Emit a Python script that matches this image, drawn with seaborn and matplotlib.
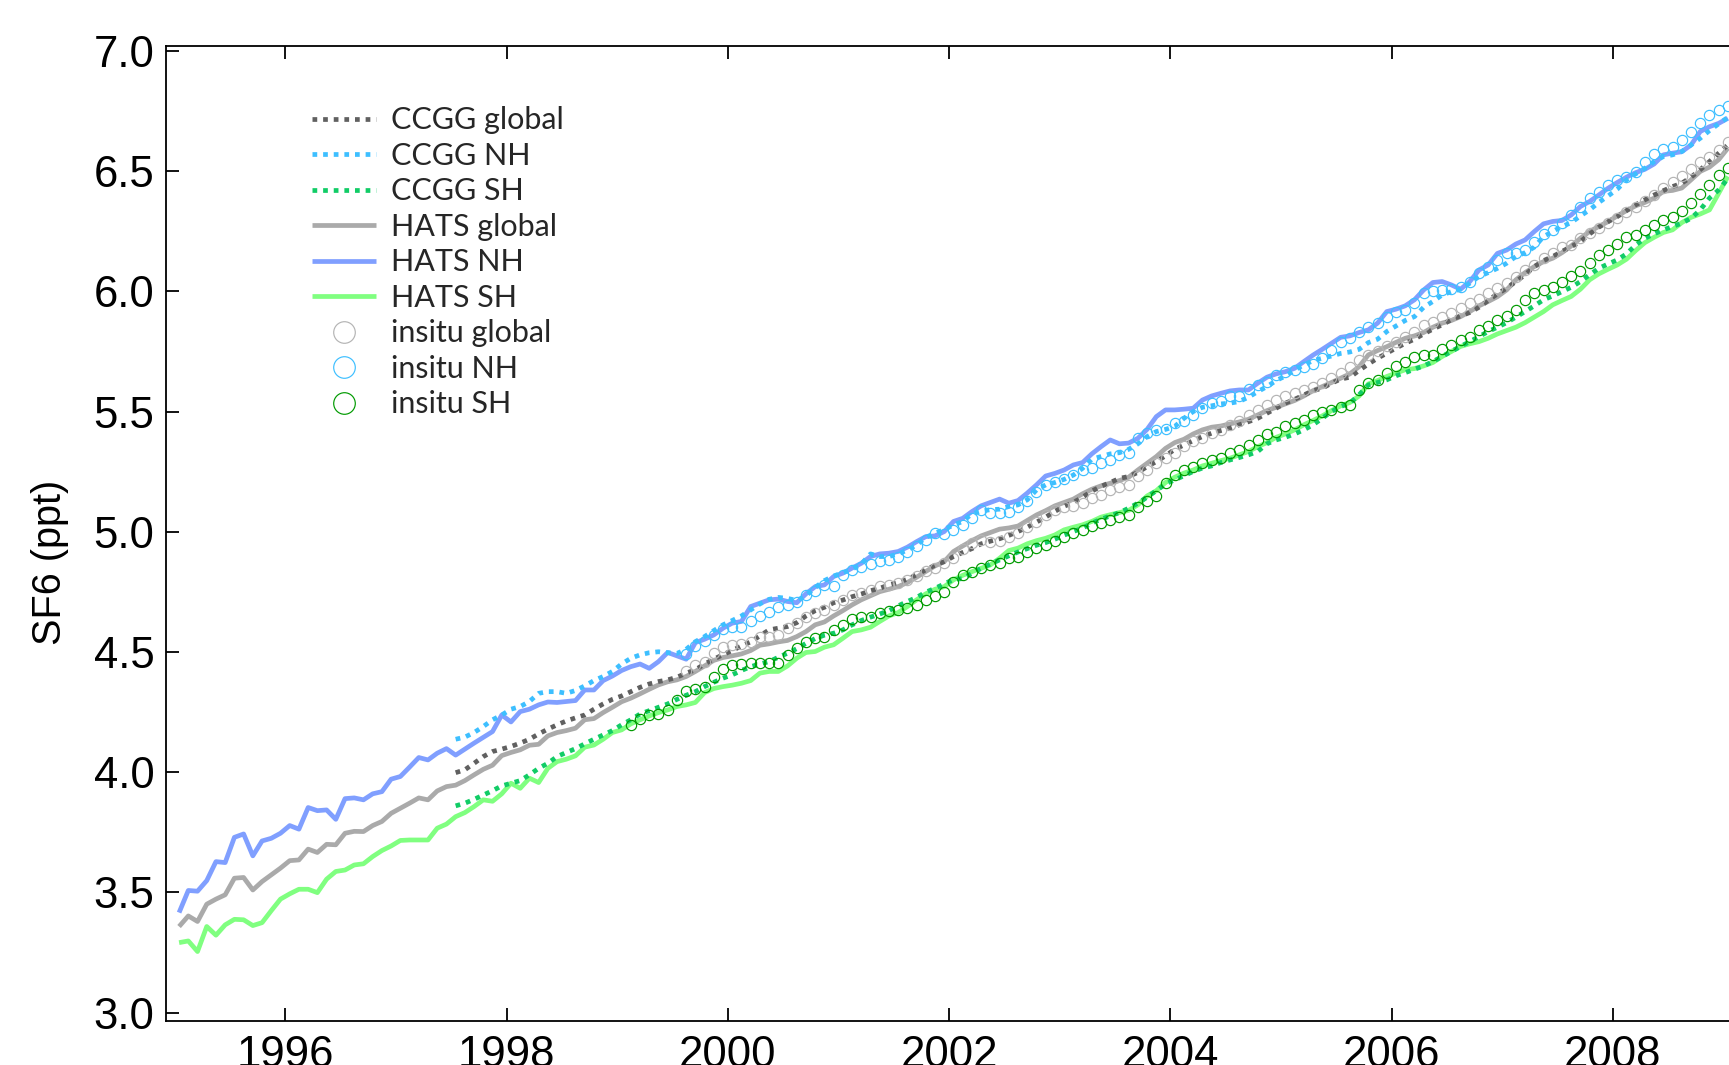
import numpy as np
import matplotlib
matplotlib.use("Agg")
import matplotlib.pyplot as plt
import seaborn as sns
from matplotlib.ticker import FormatStrFormatter

# ---------------- data (monthly SF6 mole fractions, ppt) ----------------
BASE_YEAR = 1995.04          # first monthly time step (decimal year)
HATS_START = 0               # month offsets from BASE_YEAR
CCGG_START = 30
INSITU_SH_START = 49
INSITU_NH_START = 55
INSITU_GL_START = 55

hats_nh = [3.416, 3.508, 3.505, 3.549, 3.628, 3.624, 3.729, 3.743, 3.652, 3.714, 3.725, 3.746, 3.778, 3.763,
           3.853, 3.840, 3.843, 3.804, 3.890, 3.893, 3.885, 3.910, 3.919, 3.971, 3.982, 4.021, 4.061, 4.051,
           4.079, 4.098, 4.071, 4.096, 4.121, 4.145, 4.169, 4.238, 4.209, 4.252, 4.262, 4.280, 4.292, 4.290,
           4.294, 4.298, 4.342, 4.342, 4.381, 4.400, 4.423, 4.439, 4.450, 4.432, 4.460, 4.498, 4.484, 4.470,
           4.539, 4.553, 4.571, 4.599, 4.620, 4.627, 4.689, 4.703, 4.717, 4.720, 4.710, 4.705, 4.742, 4.772,
           4.779, 4.814, 4.828, 4.849, 4.869, 4.897, 4.908, 4.911, 4.918, 4.936, 4.959, 4.980, 4.983, 5.001,
           5.043, 5.056, 5.084, 5.108, 5.122, 5.136, 5.119, 5.130, 5.161, 5.195, 5.232, 5.243, 5.257, 5.278,
           5.288, 5.324, 5.354, 5.382, 5.366, 5.369, 5.389, 5.426, 5.479, 5.507, 5.507, 5.510, 5.514, 5.548,
           5.565, 5.576, 5.586, 5.590, 5.590, 5.618, 5.643, 5.657, 5.666, 5.680, 5.708, 5.735, 5.759, 5.784,
           5.809, 5.815, 5.829, 5.840, 5.868, 5.916, 5.926, 5.940, 5.965, 6.006, 6.037, 6.041, 6.027, 6.009,
           6.041, 6.089, 6.110, 6.158, 6.172, 6.197, 6.214, 6.249, 6.281, 6.291, 6.295, 6.318, 6.353, 6.374,
           6.401, 6.429, 6.453, 6.475, 6.494, 6.508, 6.530, 6.568, 6.575, 6.581, 6.609, 6.665, 6.685, 6.699,
           6.720]

hats_gl = [3.358, 3.402, 3.379, 3.451, 3.472, 3.490, 3.559, 3.562, 3.510, 3.545, 3.573, 3.601, 3.632, 3.635,
           3.680, 3.666, 3.700, 3.698, 3.746, 3.754, 3.753, 3.778, 3.795, 3.829, 3.850, 3.871, 3.893, 3.885,
           3.922, 3.940, 3.946, 3.965, 3.989, 4.012, 4.029, 4.069, 4.082, 4.093, 4.112, 4.116, 4.151, 4.165,
           4.173, 4.183, 4.218, 4.223, 4.248, 4.270, 4.293, 4.308, 4.326, 4.345, 4.363, 4.376, 4.384, 4.398,
           4.419, 4.442, 4.465, 4.477, 4.484, 4.492, 4.506, 4.528, 4.534, 4.542, 4.548, 4.564, 4.585, 4.613,
           4.625, 4.650, 4.672, 4.696, 4.717, 4.734, 4.751, 4.761, 4.772, 4.789, 4.811, 4.835, 4.858, 4.876,
           4.918, 4.941, 4.963, 4.983, 4.997, 5.011, 5.016, 5.024, 5.047, 5.070, 5.088, 5.108, 5.122, 5.136,
           5.158, 5.177, 5.191, 5.202, 5.213, 5.227, 5.257, 5.285, 5.313, 5.347, 5.371, 5.385, 5.407, 5.424,
           5.435, 5.440, 5.449, 5.457, 5.468, 5.486, 5.504, 5.518, 5.532, 5.546, 5.565, 5.587, 5.604, 5.621,
           5.639, 5.657, 5.687, 5.736, 5.754, 5.770, 5.788, 5.805, 5.815, 5.829, 5.851, 5.868, 5.879, 5.895,
           5.916, 5.940, 5.958, 5.978, 6.006, 6.048, 6.078, 6.103, 6.124, 6.138, 6.161, 6.189, 6.221, 6.249,
           6.270, 6.290, 6.314, 6.336, 6.356, 6.370, 6.388, 6.416, 6.420, 6.430, 6.464, 6.499, 6.517, 6.548,
           6.596]

hats_sh = [3.291, 3.298, 3.254, 3.358, 3.322, 3.365, 3.388, 3.386, 3.362, 3.374, 3.424, 3.472, 3.494, 3.513,
           3.513, 3.499, 3.555, 3.587, 3.593, 3.614, 3.619, 3.649, 3.674, 3.693, 3.716, 3.718, 3.718, 3.718,
           3.767, 3.784, 3.815, 3.832, 3.857, 3.885, 3.879, 3.910, 3.954, 3.933, 3.975, 3.957, 4.016, 4.044,
           4.054, 4.068, 4.104, 4.113, 4.137, 4.165, 4.176, 4.201, 4.218, 4.234, 4.248, 4.259, 4.273, 4.280,
           4.290, 4.331, 4.348, 4.356, 4.362, 4.370, 4.381, 4.412, 4.419, 4.419, 4.442, 4.474, 4.498, 4.502,
           4.520, 4.530, 4.557, 4.585, 4.592, 4.603, 4.627, 4.650, 4.664, 4.689, 4.717, 4.742, 4.761, 4.772,
           4.800, 4.819, 4.834, 4.848, 4.862, 4.890, 4.922, 4.932, 4.950, 4.963, 4.973, 4.987, 5.008, 5.019,
           5.029, 5.043, 5.061, 5.071, 5.080, 5.089, 5.112, 5.149, 5.171, 5.205, 5.227, 5.244, 5.257, 5.274,
           5.285, 5.296, 5.306, 5.320, 5.334, 5.354, 5.371, 5.393, 5.407, 5.424, 5.445, 5.463, 5.482, 5.504,
           5.524, 5.538, 5.565, 5.615, 5.629, 5.646, 5.660, 5.674, 5.679, 5.690, 5.704, 5.729, 5.750, 5.771,
           5.782, 5.791, 5.805, 5.823, 5.837, 5.851, 5.870, 5.893, 5.916, 5.944, 5.962, 5.979, 6.009, 6.048,
           6.073, 6.092, 6.110, 6.134, 6.170, 6.203, 6.225, 6.245, 6.256, 6.286, 6.308, 6.322, 6.339, 6.408,
           6.478]

ccgg_nh = [4.137, 4.146, 4.165, 4.190, 4.218, 4.238, 4.262, 4.273, 4.294, 4.328, 4.335, 4.335,
           4.328, 4.340, 4.359, 4.381, 4.398, 4.419, 4.450, 4.474, 4.488, 4.497, 4.501, 4.497, 4.494, 4.511,
           4.543, 4.564, 4.589, 4.613, 4.631, 4.650, 4.675, 4.700, 4.719, 4.727, 4.723, 4.714, 4.733, 4.769,
           4.797, 4.816, 4.830, 4.844, 4.866, 4.908, 4.897, 4.897, 4.908, 4.924, 4.945, 4.977, 4.994, 5.010,
           5.028, 5.043, 5.075, 5.086, 5.092, 5.094, 5.105, 5.112, 5.133, 5.174, 5.195, 5.205, 5.218, 5.236,
           5.264, 5.302, 5.313, 5.324, 5.329, 5.343, 5.366, 5.396, 5.417, 5.426, 5.438, 5.472, 5.500, 5.518,
           5.524, 5.532, 5.535, 5.542, 5.560, 5.583, 5.604, 5.629, 5.648, 5.673, 5.694, 5.712, 5.722, 5.731,
           5.742, 5.748, 5.759, 5.787, 5.801, 5.833, 5.856, 5.879, 5.895, 5.934, 5.958, 5.985, 5.999, 6.009,
           6.034, 6.062, 6.078, 6.096, 6.117, 6.145, 6.161, 6.184, 6.228, 6.249, 6.270, 6.286, 6.314, 6.339,
           6.370, 6.397, 6.425, 6.464, 6.489, 6.512, 6.540, 6.561, 6.568, 6.582, 6.609, 6.637, 6.669, 6.697,
           6.724]

ccgg_gl = [3.998, 4.010, 4.037, 4.065, 4.086, 4.096, 4.107, 4.121, 4.137, 4.159, 4.179, 4.197,
           4.213, 4.226, 4.238, 4.262, 4.284, 4.303, 4.317, 4.335, 4.353, 4.367, 4.377, 4.384, 4.395, 4.412,
           4.426, 4.450, 4.470, 4.489, 4.506, 4.525, 4.542, 4.567, 4.592, 4.599, 4.606, 4.622, 4.650, 4.672,
           4.686, 4.705, 4.716, 4.730, 4.741, 4.755, 4.765, 4.779, 4.789, 4.803, 4.821, 4.842, 4.861, 4.876,
           4.897, 4.914, 4.930, 4.950, 4.961, 4.971, 4.985, 5.001, 5.019, 5.040, 5.061, 5.085, 5.106, 5.122,
           5.144, 5.169, 5.189, 5.205, 5.222, 5.230, 5.247, 5.271, 5.292, 5.316, 5.343, 5.361, 5.379, 5.396,
           5.410, 5.421, 5.431, 5.445, 5.458, 5.472, 5.493, 5.514, 5.535, 5.551, 5.569, 5.587, 5.597, 5.618,
           5.635, 5.643, 5.671, 5.698, 5.722, 5.743, 5.764, 5.784, 5.801, 5.823, 5.843, 5.861, 5.882, 5.898,
           5.912, 5.934, 5.962, 5.990, 6.013, 6.041, 6.069, 6.103, 6.128, 6.145, 6.166, 6.186, 6.207, 6.239,
           6.267, 6.290, 6.311, 6.336, 6.360, 6.381, 6.401, 6.419, 6.436, 6.450, 6.475, 6.506, 6.540, 6.575,
           6.609]

ccgg_sh = [3.860, 3.871, 3.887, 3.905, 3.923, 3.943, 3.954, 3.965, 3.989, 4.016, 4.037, 4.065,
           4.082, 4.098, 4.118, 4.137, 4.155, 4.173, 4.197, 4.218, 4.242, 4.256, 4.270, 4.284, 4.303, 4.320,
           4.335, 4.356, 4.374, 4.391, 4.405, 4.423, 4.439, 4.450, 4.460, 4.478, 4.495, 4.514, 4.536, 4.556,
           4.570, 4.578, 4.592, 4.613, 4.631, 4.645, 4.658, 4.672, 4.692, 4.710, 4.727, 4.749, 4.765, 4.783,
           4.802, 4.805, 4.827, 4.848, 4.866, 4.883, 4.900, 4.916, 4.930, 4.944, 4.955, 4.969, 4.986, 5.001,
           5.015, 5.036, 5.052, 5.066, 5.080, 5.098, 5.119, 5.144, 5.171, 5.199, 5.216, 5.233, 5.251, 5.265,
           5.274, 5.288, 5.299, 5.309, 5.320, 5.334, 5.366, 5.382, 5.393, 5.407, 5.424, 5.445, 5.472, 5.500,
           5.521, 5.535, 5.570, 5.611, 5.621, 5.632, 5.649, 5.662, 5.676, 5.690, 5.708, 5.729, 5.750, 5.771,
           5.791, 5.812, 5.833, 5.851, 5.870, 5.893, 5.916, 5.940, 5.965, 5.981, 5.999, 6.017, 6.041, 6.069,
           6.096, 6.114, 6.131, 6.156, 6.193, 6.221, 6.239, 6.256, 6.270, 6.284, 6.304, 6.339, 6.388, 6.422,
           6.470]

insitu_sh = [4.197, 4.220, 4.238, 4.242, 4.259, 4.300, 4.338, 4.345, 4.356, 4.398, 4.428, 4.446, 4.450,
             4.456, 4.453, 4.453, 4.456, 4.488, 4.515, 4.543, 4.560, 4.564, 4.592, 4.613, 4.636, 4.645,
             4.647, 4.661, 4.672, 4.675, 4.682, 4.696, 4.716, 4.733, 4.751, 4.793,
             4.821, 4.834, 4.848, 4.862, 4.869, 4.890, 4.897, 4.917, 4.931, 4.945, 4.963, 4.980, 4.994,
             5.008, 5.024, 5.036, 5.050, 5.063, 5.070, 5.105, 5.126, 5.147, 5.205, 5.237, 5.257, 5.271,
             5.285, 5.299, 5.306, 5.327, 5.341, 5.362, 5.382, 5.407, 5.417, 5.438, 5.452, 5.466, 5.487,
             5.500, 5.507, 5.521, 5.528, 5.590,
             5.618, 5.632, 5.660, 5.688, 5.708, 5.729, 5.736, 5.736, 5.760, 5.778, 5.799, 5.812, 5.840,
             5.854, 5.882, 5.896, 5.923, 5.965, 5.995, 6.006, 6.020, 6.037, 6.062, 6.083, 6.117, 6.152,
             6.172, 6.197, 6.228, 6.235, 6.256, 6.277, 6.297, 6.311, 6.336, 6.367, 6.405, 6.443, 6.485,
             6.512]

insitu_nh = [4.492, 4.523, 4.544, 4.571, 4.594, 4.606, 4.606, 4.627, 4.650, 4.668, 4.689, 4.696, 4.710,
             4.738, 4.752, 4.780, 4.776, 4.821, 4.839, 4.853, 4.867, 4.877, 4.881, 4.897, 4.918, 4.939,
             4.967, 4.994, 4.991, 5.008,
             5.029, 5.057, 5.091, 5.077, 5.080, 5.084, 5.105, 5.130, 5.167, 5.195, 5.209, 5.218, 5.236,
             5.257, 5.264, 5.285, 5.299, 5.320, 5.327, 5.389, 5.410, 5.424, 5.427, 5.452, 5.459, 5.487,
             5.514, 5.535, 5.542, 5.563, 5.563, 5.593, 5.611, 5.625, 5.652, 5.666, 5.673, 5.684, 5.698,
             5.722, 5.757, 5.791, 5.805, 5.833,
             5.851, 5.868, 5.895, 5.916, 5.923, 5.951, 5.992, 6.003, 6.006, 6.009, 6.020, 6.041, 6.075,
             6.103, 6.131, 6.159, 6.161, 6.172, 6.207, 6.239, 6.256, 6.286, 6.318, 6.353, 6.387, 6.415,
             6.443, 6.464, 6.475, 6.498, 6.540, 6.572, 6.591, 6.602, 6.630, 6.665, 6.700, 6.734, 6.755,
             6.772]

insitu_gl = [4.419, 4.446, 4.460, 4.495, 4.520, 4.529, 4.534, 4.543, 4.564, 4.564, 4.571, 4.599, 4.620,
             4.645, 4.664, 4.675, 4.696, 4.717, 4.738, 4.745, 4.759, 4.773, 4.780, 4.787, 4.801, 4.817,
             4.835, 4.849, 4.870, 4.891,
             4.927, 4.952, 4.966, 4.959, 4.963, 4.980, 4.994, 5.019, 5.042, 5.070, 5.091, 5.105, 5.108,
             5.119, 5.140, 5.154, 5.174, 5.185, 5.195, 5.230, 5.257, 5.285, 5.306, 5.327, 5.355, 5.376,
             5.389, 5.410, 5.424, 5.445, 5.459, 5.487, 5.507, 5.528, 5.548, 5.563, 5.576, 5.590, 5.604,
             5.618, 5.639, 5.660, 5.687, 5.715,
             5.736, 5.750, 5.773, 5.791, 5.812, 5.833, 5.861, 5.874, 5.895, 5.909, 5.930, 5.951, 5.967,
             5.992, 6.013, 6.034, 6.061, 6.089, 6.110, 6.138, 6.159, 6.186, 6.193, 6.221, 6.242, 6.263,
             6.284, 6.304, 6.332, 6.353, 6.374, 6.401, 6.429, 6.457, 6.480, 6.508, 6.540, 6.561, 6.589,
             6.623]

x_ticks = [1996, 1998, 2000, 2002, 2004, 2006, 2008]
y_ticks = [3.0, 3.5, 4.0, 4.5, 5.0, 5.5, 6.0, 6.5, 7.0]
y_label = "SF6 (ppt)"


def monthly(start, n):
    return BASE_YEAR + (start + np.arange(n)) / 12.0


# ---------------- figure ----------------
sns.set_theme(style="ticks")
plt.rcParams['font.family'] = ['Liberation Sans', 'DejaVu Sans']

W, H = 1729, 1065
fig = plt.figure(figsize=(W / 100, H / 100), dpi=100)
x_left, x_right = 165.7, 1745.6
y_top, y_bot = 45.7, 1021.0
ax = fig.add_axes([x_left / W, 1 - y_bot / H, (x_right - x_left) / W, (y_bot - y_top) / H])

DOT = (0, (1, 1.25))
LW = 3.4

ccgg = [("CCGG global", ccgg_gl, "#606060"),
        ("CCGG NH", ccgg_nh, "#3DBFFF"),
        ("CCGG SH", ccgg_sh, "#11CC66")]
hats = [("HATS global", hats_gl, "#AAAAAA"),
        ("HATS NH", hats_nh, "#809FFF"),
        ("HATS SH", hats_sh, "#80FF80")]
insitu = [("insitu global", insitu_gl, INSITU_GL_START, "#B4B4B4"),
          ("insitu NH", insitu_nh, INSITU_NH_START, "#3DBFFF"),
          ("insitu SH", insitu_sh, INSITU_SH_START, "#009A00")]

for name, vals, col in ccgg:
    sns.lineplot(x=monthly(CCGG_START, len(vals)), y=vals, ax=ax, color=col, lw=LW,
                 linestyle=DOT, estimator=None, label=name, zorder=3)
for name, vals, col in hats:
    sns.lineplot(x=monthly(HATS_START, len(vals)), y=vals, ax=ax, color=col, lw=LW,
                 estimator=None, label=name, zorder=2, solid_capstyle='butt')
for name, vals, start, col in insitu:
    sns.lineplot(x=monthly(start, len(vals)), y=vals, ax=ax, color=col, linestyle='',
                 marker='o', markersize=7.4, markerfacecolor='none', markeredgecolor=col,
                 markeredgewidth=0.85, estimator=None, label=name, zorder=4)

ax.set_xticks(x_ticks)
ax.set_yticks(y_ticks)
ax.set_xlim(1994.919, 2009.2)
ax.set_ylim(2.965, 7.022)
ax.yaxis.set_major_formatter(FormatStrFormatter('%.1f'))
ax.set_xlabel("")
ax.set_ylabel(y_label, fontsize=28.5, color='black')
ax.yaxis.set_label_coords(-0.0612, 0.4706)

for sp in ax.spines.values():
    sp.set_visible(True)
    sp.set_color('black')
    sp.set_linewidth(1.3)
ax.tick_params(axis='both', direction='in', length=9.4, width=1.3, colors='black',
               labelsize=31.5, labelcolor='black')
ax.tick_params(axis='x', top=True, bottom=True, pad=10)
ax.tick_params(axis='y', left=True, right=False, pad=8)
ax.grid(False)

handles, labels = ax.get_legend_handles_labels()
order = [n for n, *_ in ccgg] + [n for n, *_ in hats] + [n for n, *_ in insitu]
hl = dict(zip(labels, handles))
ax.legend([hl[n] for n in order], order, loc='upper left',
          bbox_to_anchor=((312 - x_left) / (x_right - x_left), (y_bot - 106.5) / (y_bot - y_top)),
          frameon=False, prop={'family': ['Lato', 'DejaVu Sans'], 'size': 22},
          handlelength=2.08, handletextpad=0.52, labelspacing=0.245, markerscale=2.1,
          borderpad=0, borderaxespad=0)

fig.savefig("out.png", dpi=100)
